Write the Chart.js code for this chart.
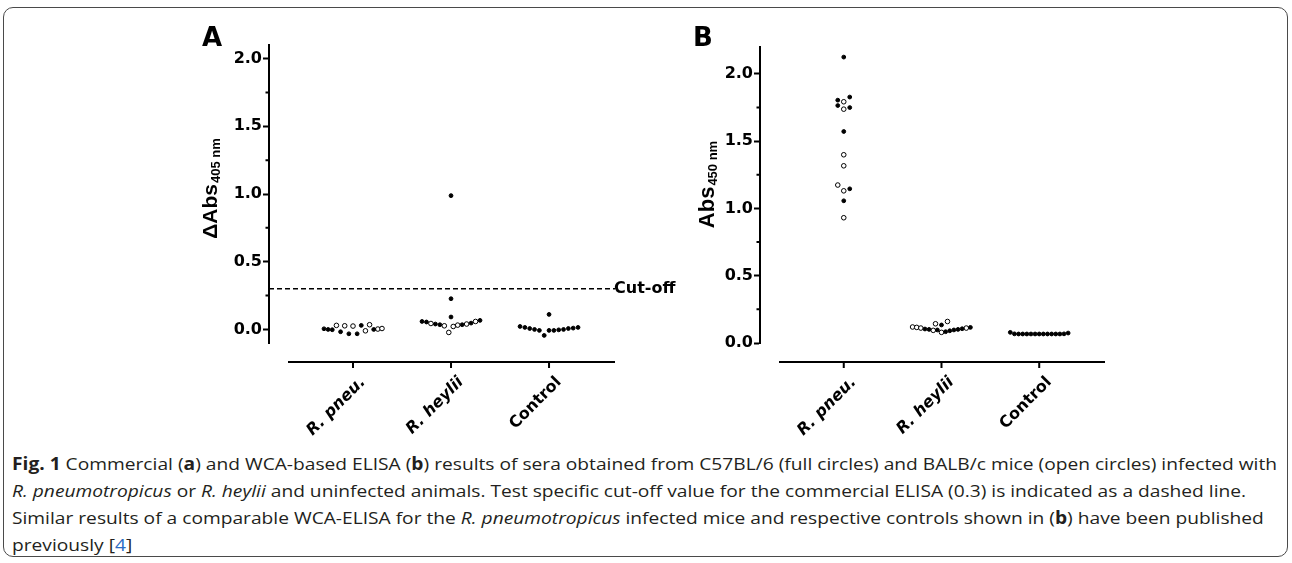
<!DOCTYPE html>
<html lang="en">
<head>
<meta charset="UTF-8">
<title>Fig. 1 ELISA results</title>
<style>
    html, body { margin: 0; padding: 0; background: #fff; }
    body { width: 1292px; height: 563px; position: relative; overflow: hidden; font-family: "Open Sans", sans-serif; }
    #frame {
        position: absolute; left: 3px; top: 7px; width: 1283px; height: 548px;
        border: 1.5px solid #4a4a4a; border-radius: 10px;
    }
    #chartA { position: absolute; left: 150px; top: 0; }
    #chartB { position: absolute; left: 640px; top: 0; }
    #caption {
        position: absolute; left: 12px; top: 450px;
        font-size: 17px; line-height: 27px; color: #231f20;
        white-space: nowrap; transform-origin: 0 0;
    }
    #caption a { color: #2b6cc4; text-decoration: none; }
</style>
</head>
<body>
<div id="frame"></div>
<canvas id="chartA" width="550" height="445"></canvas>
<canvas id="chartB" width="560" height="445"></canvas>
<div id="caption">
    <div id="line1"><b>Fig. 1</b> Commercial (<b>a</b>) and WCA-based ELISA (<b>b</b>) results of sera obtained from C57BL/6 (full circles) and BALB/c mice (open circles) infected with</div>
    <div><i>R. pneumotropicus</i> or <i>R. heylii</i> and uninfected animals. Test specific cut-off value for the commercial ELISA (0.3) is indicated as a dashed line.</div>
    <div>Similar results of a comparable WCA-ELISA for the <i>R. pneumotropicus</i> infected mice and respective controls shown in (<b>b</b>) have been published</div>
    <div>previously [<a>4</a>]</div>
</div>

<script src="https://cdn.jsdelivr.net/npm/chart.js"></script>
<script>
    // categories and axis ticks
    var groups = ['R. pneu.', 'R. heylii', 'Control'];
    var yTicksA = [0, 0.5, 1.0, 1.5, 2.0];
    var yMinorA = [0.25, 0.75, 1.25, 1.75];
    var yTicksB = [0, 0.5, 1.0, 1.5, 2.0];
    var yMinorB = [0.25, 0.75, 1.25, 1.75];
    var cutOff = 0.3;

    // Panel A, dAbs405 per animal, listed left to right; 1 = C57BL/6 (full), 0 = BALB/c (open)
    var aPneu     = [0.005, 0.0, -0.002, 0.03, -0.017, 0.027, -0.032, 0.025, -0.032, 0.03, -0.01, 0.035, 0.0, 0.003, 0.007];
    var aPneuFull = [1, 1, 1, 0, 1, 0, 1, 0, 1, 1, 0, 0, 1, 0, 0];
    var aHeyl     = [0.059, 0.055, 0.044, 0.04, 0.035, 0.027, -0.022, 0.022, 0.032, 0.035, 0.04, 0.047, 0.059, 0.067, 0.988, 0.227, 0.092];
    var aHeylFull = [1, 1, 0, 1, 1, 0, 0, 0, 0, 1, 0, 1, 0, 1, 1, 1, 1];
    var aCtrl     = [0.022, 0.015, 0.007, 0.0, -0.007, -0.044, -0.007, -0.007, -0.003, 0.0, 0.007, 0.010, 0.015, 0.111];
    var aCtrlFull = [1, 1, 1, 1, 1, 1, 1, 1, 1, 1, 1, 1, 1, 1];

    // Panel B, Abs450 per animal
    var bPneu     = [2.125, 1.805, 1.793, 1.828, 1.765, 1.738, 1.750, 1.572, 1.399, 1.317, 1.174, 1.131, 1.146, 1.057, 0.931];
    var bPneuFull = [1, 1, 0, 1, 1, 0, 1, 1, 0, 0, 0, 0, 1, 1, 0];
    var bHeyl     = [0.119, 0.116, 0.111, 0.104, 0.101, 0.094, 0.097, 0.079, 0.084, 0.091, 0.097, 0.101, 0.106, 0.111, 0.116, 0.143, 0.134, 0.160];
    var bHeylFull = [0, 0, 0, 1, 1, 0, 1, 0, 1, 1, 1, 1, 1, 0, 1, 0, 1, 0];
    var bCtrl     = [0.079, 0.068, 0.067, 0.067, 0.067, 0.067, 0.067, 0.067, 0.067, 0.067, 0.067, 0.067, 0.067, 0.068, 0.074];
    var bCtrlFull = [1, 1, 1, 1, 1, 1, 1, 1, 1, 1, 1, 1, 1, 1, 1];

    var xMin = 0.143, xMax = 3.673;
    var PX_PER_CAT = 98;   // approx pixels per category step
    var MAX_STEP = 6, MAX_SPAN = 58, AXIS_GAP = 19;
    var BOLD = '"DejaVu Sans", sans-serif';

    // scatter-dot spreading: values close together share a row, spread sideways in list order
    function spreadX(values, cat, tol) {
        var order = values.map(function(v, i) { return i; }).sort(function(a, b) { return values[a] - values[b]; });
        var clusters = [], start = null;
        order.forEach(function(i) {
            if (start === null || values[i] - start > tol) { clusters.push([]); start = values[i]; }
            clusters[clusters.length - 1].push(i);
        });
        var xs = [];
        clusters.forEach(function(c) {
            c.sort(function(a, b) { return a - b; });
            var n = c.length;
            var step = n > 1 ? Math.min(MAX_STEP, MAX_SPAN / (n - 1)) : 0;
            c.forEach(function(idx, k) { xs[idx] = cat + (k - (n - 1) / 2) * step / PX_PER_CAT; });
        });
        return xs;
    }

    function buildPoints(valueSets, fullSets, tol) {
        var full = [], open = [];
        valueSets.forEach(function(vals, g) {
            var xs = spreadX(vals, g + 1, tol);
            vals.forEach(function(v, i) {
                (fullSets[g][i] ? full : open).push({ x: xs[i], y: v });
            });
        });
        return { full: full, open: open };
    }

    function decor(opt) {
        return {
            id: 'decor',
            afterDraw: function(chart) {
                var ctx = chart.ctx, area = chart.chartArea;
                var xs = chart.scales.x, ys = chart.scales.y;
                ctx.save();
                ctx.strokeStyle = '#000';
                ctx.fillStyle = '#000';
                ctx.lineWidth = 2;
                // detached category axis with ticks
                var yAx = area.bottom + AXIS_GAP;
                ctx.beginPath();
                ctx.moveTo(area.left + AXIS_GAP, yAx);
                ctx.lineTo(area.right, yAx);
                groups.forEach(function(g, i) {
                    var px = xs.getPixelForValue(i + 1);
                    ctx.moveTo(px, yAx);
                    ctx.lineTo(px, yAx + 6);
                });
                // minor y ticks
                opt.minor.forEach(function(v) {
                    var py = ys.getPixelForValue(v);
                    ctx.moveTo(area.left, py);
                    ctx.lineTo(area.left - 3.5, py);
                });
                ctx.stroke();

                // panel letter
                ctx.font = 'bold 26px ' + BOLD;
                ctx.textBaseline = 'alphabetic';
                ctx.fillText(opt.letter, opt.letterX, 46);

                // cut-off label
                if (opt.cutLabel) {
                    ctx.font = 'bold 16px ' + BOLD;
                    ctx.textBaseline = 'middle';
                    ctx.fillText(opt.cutLabel, area.right - 1, ys.getPixelForValue(cutOff));
                }

                // y axis title with subscript
                ctx.translate(opt.titleX, opt.titleY);
                ctx.rotate(-Math.PI / 2);
                ctx.textBaseline = 'alphabetic';
                ctx.font = 'bold ' + opt.mainSize + 'px "Liberation Sans", Arial, sans-serif';
                var w1 = ctx.measureText(opt.title).width;
                ctx.font = 'bold ' + opt.subSize + 'px "Liberation Sans", Arial, sans-serif';
                var w2 = ctx.measureText(opt.sub).width;
                var x0 = -(w1 + w2) / 2;
                ctx.font = 'bold ' + opt.mainSize + 'px "Liberation Sans", Arial, sans-serif';
                ctx.fillText(opt.title, x0, 0);
                ctx.font = 'bold ' + opt.subSize + 'px "Liberation Sans", Arial, sans-serif';
                ctx.fillText(opt.sub, x0 + w1 + 1, 3);
                ctx.restore();
            }
        };
    }

    function makeChart(id, pts, yMin, yMax, yTicks, pad, yWidth, extra, decoOpt) {
        var datasets = [
            { label: 'C57BL/6', data: pts.full, backgroundColor: '#000', borderColor: '#000', borderWidth: 1, pointRadius: 1.9 },
            { label: 'BALB/c', data: pts.open, backgroundColor: '#fff', borderColor: '#000', borderWidth: 1, pointRadius: 2.3 }
        ].concat(extra);
        return new Chart(document.getElementById(id).getContext('2d'), {
            type: 'scatter',
            data: { datasets: datasets },
            options: {
                responsive: false,
                animation: false,
                layout: { padding: pad },
                plugins: { legend: { display: false }, tooltip: { enabled: false } },
                scales: {
                    x: {
                        type: 'linear', min: xMin, max: xMax,
                        afterBuildTicks: function(s) { s.ticks = groups.map(function(g, i) { return { value: i + 1 }; }); },
                        afterFit: function(s) { s.height = 102; },
                        grid: { display: false },
                        border: { display: false },
                        ticks: {
                            autoSkip: false, minRotation: 45, maxRotation: 45, padding: 22, labelOffset: 10, color: '#000',
                            callback: function(v) { return groups[Math.round(v) - 1]; },
                            font: function(c) {
                                return { family: BOLD, size: 16, weight: 'bold', style: c.index < 2 ? 'italic' : 'normal' };
                            }
                        }
                    },
                    y: {
                        min: yMin, max: yMax,
                        afterBuildTicks: function(s) { s.ticks = yTicks.map(function(v) { return { value: v }; }); },
                        afterFit: function(s) { s.width = yWidth; },
                        grid: { drawOnChartArea: false, drawTicks: true, tickLength: 6, tickWidth: 2, tickColor: '#000' },
                        border: { display: true, width: 2, color: '#000' },
                        ticks: {
                            padding: 1, color: '#000',
                            font: { family: BOLD, size: 16, weight: 'bold' },
                            callback: function(v) { return v.toFixed(1); }
                        }
                    }
                }
            },
            plugins: [decor(decoOpt)]
        });
    }

    var ptsA = buildPoints([aPneu, aHeyl, aCtrl], [aPneuFull, aHeylFull, aCtrlFull], 0.1);
    var ptsB = buildPoints([bPneu, bHeyl, bCtrl], [bPneuFull, bHeylFull, bCtrlFull], 0.05);

    var cutLine = {
        type: 'line', label: 'Cut-off',
        data: [{ x: xMin, y: cutOff }, { x: xMax, y: cutOff }],
        borderColor: '#000', borderWidth: 1.6, borderDash: [5, 3], pointRadius: 0, fill: false
    };

    makeChart('chartA', ptsA, -0.1, 2.1, yTicksA, { left: 0, right: 85, top: 45, bottom: 0 }, 119, [cutLine],
        { letter: 'A', letterX: 52, minor: yMinorA, cutLabel: 'Cut-off',
          title: '\u0394Abs', sub: '405 nm', mainSize: 21, subSize: 13, titleX: 67, titleY: 189 });

    makeChart('chartB', ptsB, 0, 2.2, yTicksB, { left: 0, right: 95, top: 47, bottom: 0 }, 120, [],
        { letter: 'B', letterX: 53, minor: yMinorB, cutLabel: null,
          title: 'Abs', sub: '450 nm', mainSize: 22, subSize: 13, titleX: 74, titleY: 185 });

    // fit caption width to the figure box
    var line1 = document.getElementById('line1');
    var w = line1.getBoundingClientRect().width;
    document.getElementById('caption').style.transform = 'scaleX(' + (1265 / w).toFixed(4) + ')';
</script>
</body>
</html>
